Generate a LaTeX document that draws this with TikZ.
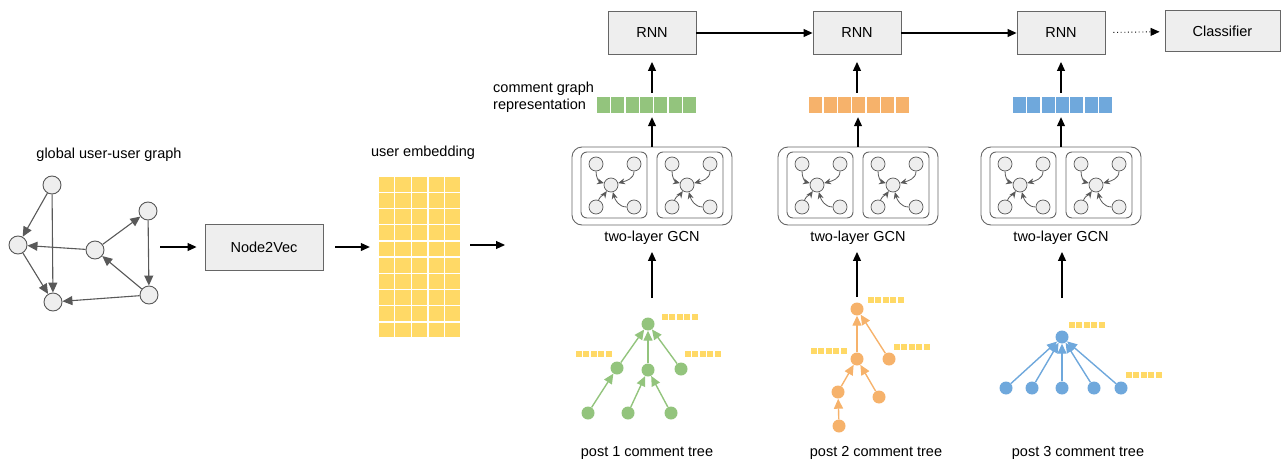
\documentclass[tikz,border=0pt]{standalone}
\usepackage{fontspec}
\setmainfont{Liberation Sans}
\usetikzlibrary{arrows.meta}
\definecolor{boxfill}{HTML}{EEEEEE}
\definecolor{boxdraw}{HTML}{666666}
\definecolor{edgegray}{HTML}{595959}
\definecolor{ggreen}{HTML}{93C47D}
\definecolor{gorange}{HTML}{F6B26B}
\definecolor{gblue}{HTML}{6FA8DC}
\definecolor{gyellow}{HTML}{FFD966}

% one inner GCN layer: prefix, x, y
\newcommand\gcnpanel[3]{%
  \node[innerbox] (#1box) at (#2,#3) {};
  \node[gnode] (#1c)  at (#2-3,#3) {};
  \node[gnode] (#1tl) at (#2-18,#3+21) {};
  \node[gnode] (#1tr) at (#2+20,#3+21) {};
  \node[gnode] (#1bl) at (#2-18,#3-22) {};
  \node[gnode] (#1br) at (#2+20,#3-22) {};
  \draw[gedge] (#1tl) to[out=-90,in=165] (#1c);
  \draw[gedge] (#1tr) to[out=-90,in=15] (#1c);
  \draw[gedge] (#1bl) to[out=70,in=-125] (#1c);
  \draw[gedge] (#1br) to[out=180,in=-75] (#1c);
}
% small yellow feature bar: left x, centre y
\newcommand\featbar[2]{%
  \foreach \k in {0,...,4} \fill[gyellow] (#1+\k*7.4,#2-3) rectangle ++(6,6);
}
% representation bar: name, colour, centre x, centre y
\newcommand\repbar[4]{%
  \node[minimum width=101pt, minimum height=16pt, inner sep=0pt] (#1) at (#3,#4) {};
  \foreach \k in {0,...,6} \fill[#2] (#3-50.5+\k*14.43+0.7,#4-8) rectangle ++(13,16);
}

\begin{document}
\begin{tikzpicture}[x=1pt,y=1pt,
  font=\fontsize{14.5}{17}\selectfont,
  box/.style={draw=boxdraw, fill=boxfill, line width=0.9pt, inner sep=0pt},
  unode/.style={circle, draw=edgegray, fill=boxfill, line width=0.9pt, minimum size=18pt, inner sep=0pt},
  uedge/.style={draw=edgegray, line width=1.1pt, -{Triangle[length=10pt,width=9pt]}},
  flow/.style={draw=black, line width=1.1pt, -{Triangle[length=9pt,width=8pt]}},
  outerbox/.style={draw=boxdraw, line width=0.9pt, rounded corners=10pt, minimum width=160pt, minimum height=78pt, inner sep=0pt},
  innerbox/.style={draw=boxdraw, line width=0.9pt, rounded corners=6pt, minimum width=66pt, minimum height=66pt, inner sep=0pt},
  gnode/.style={circle, draw=edgegray, fill=boxfill, line width=0.7pt, minimum size=14pt, inner sep=0pt},
  gedge/.style={draw=edgegray, line width=0.8pt, -{Stealth[length=7pt,width=6pt]}},
  tnode/.style={circle, fill=#1, minimum size=13pt, inner sep=0pt},
  tedge/.style={draw=#1, line width=1.4pt, -{Triangle[length=10pt,width=9pt]}},
  lbl/.style={inner sep=0pt}
]
\useasboundingbox (0,0) rectangle (1283,-463);

% ---------- global user-user graph ----------
\node[lbl] (tglobal) at (109,-155) {global user-user graph};
\node[unode] (uA) at (52,-185) {};
\node[unode] (uB) at (18,-245) {};
\node[unode] (uC) at (53,-302) {};
\node[unode] (uD) at (95,-250) {};
\node[unode] (uE) at (148,-211) {};
\node[unode] (uF) at (149,-295) {};
\draw[uedge] (uA) -- (uB);
\draw[uedge] (uA) -- (uC);
\draw[uedge] (uB) -- (uC);
\draw[uedge] (uD) -- (uB);
\draw[uedge] (uD) -- (uE);
\draw[uedge] (uE) -- (uF);
\draw[uedge] (uF) -- (uD);
\draw[uedge] (uF) -- (uC);

\coordinate (gout) at (160,-247);
\node[box, minimum width=118pt, minimum height=46pt] (n2v) at (264,-247) {Node2Vec};
\draw[flow, shorten >=8pt] (gout) -- (n2v.west);

% ---------- user embedding ----------
\node[lbl] (tuemb) at (423,-153) {user embedding};
\node[minimum width=83pt, minimum height=162pt, inner sep=0pt] (emb) at (419.5,-257) {};
\foreach \i in {0,...,4}
  \foreach \j in {0,...,9}
    \fill[gyellow] (378+\i*16.6+0.7,-176-\j*16.2-0.7) rectangle ++(15.2,-14.8);
\draw[flow, shorten <=12pt, shorten >=8pt] (n2v.east) -- (n2v.east -| emb.west);
\coordinate (embout) at (505,-245);
\draw[flow, shorten <=9pt] (emb.east |- embout) -- (embout);

% ---------- RNN chain ----------
\node[box, minimum width=88pt, minimum height=43pt] (rnn1) at (652,-33) {RNN};
\node[box, minimum width=88pt, minimum height=43pt] (rnn2) at (857,-33) {RNN};
\node[box, minimum width=88pt, minimum height=43pt] (rnn3) at (1061,-33) {RNN};
\node[box, minimum width=115pt, minimum height=41pt] (cls) at (1222.5,-31) {Classifier};
\draw[flow] (rnn1) -- (rnn2);
\draw[flow] (rnn2) -- (rnn3);
\draw[flow, line width=0.9pt, dash pattern=on 1pt off 2.6pt, shorten <=8pt, shorten >=5pt] (rnn3) -- (cls);

% ---------- representations ----------
\node[lbl, align=left, anchor=west] (trep) at (493,-97.5) {comment graph\\representation};
\repbar{rep1}{ggreen}{646.5}{-105}
\repbar{rep2}{gorange}{859}{-105}
\repbar{rep3}{gblue}{1062.5}{-105}

% ---------- GCN blocks ----------
\node[outerbox] (gcn1) at (652,-186) {};
\gcnpanel{p1a}{614}{-185}
\gcnpanel{p1b}{690}{-185}
\node[lbl] (gl1) at (652,-238) {two-layer GCN};

\node[outerbox] (gcn2) at (858,-186) {};
\gcnpanel{p2a}{820}{-185}
\gcnpanel{p2b}{896}{-185}
\node[lbl] (gl2) at (858,-238) {two-layer GCN};

\node[outerbox] (gcn3) at (1061,-186) {};
\gcnpanel{p3a}{1023}{-185}
\gcnpanel{p3b}{1099}{-185}
\node[lbl] (gl3) at (1061,-238) {two-layer GCN};

\foreach \n in {1,2,3}{
  \draw[flow, shorten >=4pt] (gcn\n.north) -- (gcn\n.north |- rep\n.south);
  \draw[flow, shorten <=4pt, shorten >=7pt] (rnn\n.south |- rep\n.north) -- (rnn\n.south);
}

% ---------- post 1 comment tree (green) ----------
\node[tnode=ggreen] (g1r) at (648,-324) {};
\node[tnode=ggreen] (g1a) at (617,-368) {};
\node[tnode=ggreen] (g1b) at (648,-370) {};
\node[tnode=ggreen] (g1c) at (681,-369) {};
\node[tnode=ggreen] (g1d) at (588,-413) {};
\node[tnode=ggreen] (g1e) at (628,-413) {};
\node[tnode=ggreen] (g1f) at (671,-413) {};
\draw[tedge=ggreen] (g1a) -- (g1r);
\draw[tedge=ggreen] (g1b) -- (g1r);
\draw[tedge=ggreen] (g1c) -- (g1r);
\draw[tedge=ggreen] (g1d) -- (g1a);
\draw[tedge=ggreen] (g1e) -- (g1b);
\draw[tedge=ggreen] (g1f) -- (g1b);
\featbar{662}{-317}
\featbar{576}{-354}
\featbar{685}{-354}
\coordinate (t1) at (652,-298);
\draw[flow, shorten >=7pt] (t1) -- (t1 |- gl1.south);
\node[lbl] (pl1) at (647,-453) {post 1 comment tree};

% ---------- post 2 comment tree (orange) ----------
\node[tnode=gorange] (o2r) at (857,-309) {};
\node[tnode=gorange] (o2a) at (857,-359) {};
\node[tnode=gorange] (o2b) at (889,-359) {};
\node[tnode=gorange] (o2c) at (838,-392) {};
\node[tnode=gorange] (o2d) at (879,-397) {};
\node[tnode=gorange] (o2e) at (839,-426) {};
\draw[tedge=gorange] (o2a) -- (o2r);
\draw[tedge=gorange] (o2b) -- (o2r);
\draw[tedge=gorange] (o2c) -- (o2a);
\draw[tedge=gorange] (o2d) -- (o2a);
\draw[tedge=gorange] (o2e) -- (o2c);
\featbar{868}{-300}
\featbar{811}{-351}
\featbar{894}{-347}
\coordinate (t2) at (857,-297);
\draw[flow, shorten >=7pt] (t2) -- (t2 |- gl2.south);
\node[lbl] (pl2) at (876,-453) {post 2 comment tree};

% ---------- post 3 comment tree (blue) ----------
\node[tnode=gblue] (b3r) at (1062,-337) {};
\node[tnode=gblue] (b3a) at (1006,-388) {};
\node[tnode=gblue] (b3b) at (1032,-388) {};
\node[tnode=gblue] (b3c) at (1062,-388) {};
\node[tnode=gblue] (b3d) at (1094,-388) {};
\node[tnode=gblue] (b3e) at (1121,-388) {};
\foreach \m in {a,b,c,d,e} \draw[tedge=gblue] (b3\m) -- (b3r);
\featbar{1069}{-325}
\featbar{1126}{-375}
\coordinate (t3) at (1062,-298);
\draw[flow, shorten >=7pt] (t3) -- (t3 |- gl3.south);
\node[lbl] (pl3) at (1078,-453) {post 3 comment tree};
\end{tikzpicture}
\end{document}
